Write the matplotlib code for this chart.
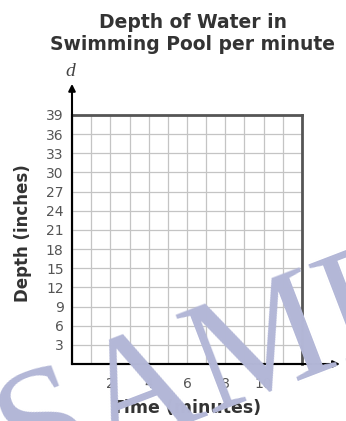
import numpy as np
import matplotlib.pyplot as plt

# Grid and tick values
x_max = 12
y_max = 39
x_ticks = [2, 4, 6, 8, 10]
y_ticks = [3, 6, 9, 12, 15, 18, 21, 24, 27, 30, 33, 36, 39]
x_grid = list(range(0, 13))
y_grid = list(range(0, 40, 3))

title = 'Depth of Water in\nSwimming Pool per minute'
x_label = 'Time (minutes)'
y_label = 'Depth (inches)'

fig = plt.figure(figsize=(3.46, 4.21), dpi=100)
ax = fig.add_axes([72/346, 57/421, 230/346, 249/421])
ax.set_xlim(0, x_max)
ax.set_ylim(0, y_max)

# grid lines
ax.set_xticks(x_grid, minor=True)
ax.set_yticks(y_grid, minor=True)
ax.grid(which='both', color='#c4c4c4', linewidth=0.9)
ax.set_axisbelow(True)

ax.set_xticks(x_ticks)
ax.set_yticks(y_ticks)
ax.tick_params(which='both', length=0)
ax.tick_params(axis='x', pad=9, labelsize=10, labelcolor='#555555')
ax.tick_params(axis='y', pad=6, labelsize=10, labelcolor='#555555')

# box
for s in ['top', 'right']:
    ax.spines[s].set_color('#555555')
    ax.spines[s].set_linewidth(2)
for s in ['left', 'bottom']:
    ax.spines[s].set_color('black')
    ax.spines[s].set_linewidth(1.5)

# axis arrows
ax.annotate('', xy=(0, 1.125), xytext=(0, 0), xycoords='axes fraction',
            arrowprops=dict(arrowstyle='-|>', color='black', lw=1.5,
                            mutation_scale=10, shrinkA=0, shrinkB=0),
            annotation_clip=False)
ax.annotate('', xy=(1.165, 0), xytext=(0, 0), xycoords='axes fraction',
            arrowprops=dict(arrowstyle='-|>', color='black', lw=1.5,
                            mutation_scale=10, shrinkA=0, shrinkB=0),
            annotation_clip=False)

fig.text(70/346, 1 - 72/421, 'd', fontsize=14, style='italic',
         family='Liberation Serif', color='#444444', ha='center', va='center')

fig.text(193/346, 1 - 33/421, title, fontsize=13.5, fontweight='bold',
         family='DejaVu Sans', color='#333333', ha='center', va='center',
         linespacing=1.2)
fig.text(23/346, 1 - 233/421, y_label, fontsize=12, fontweight='bold',
         family='DejaVu Sans', color='#333333', rotation=90,
         ha='center', va='center')
fig.text(187/346, 1 - 408/421, x_label, fontsize=12.5, fontweight='bold',
         family='DejaVu Sans', color='#333333', ha='center', va='center')

# watermark
fig.text(19/346, -63/421, 'SAMPLE', fontsize=115, family='Liberation Serif',
         color='#b3b7d7', rotation=21, rotation_mode='anchor',
         ha='left', va='baseline', zorder=10)

fig.savefig('out.png', dpi=100)
